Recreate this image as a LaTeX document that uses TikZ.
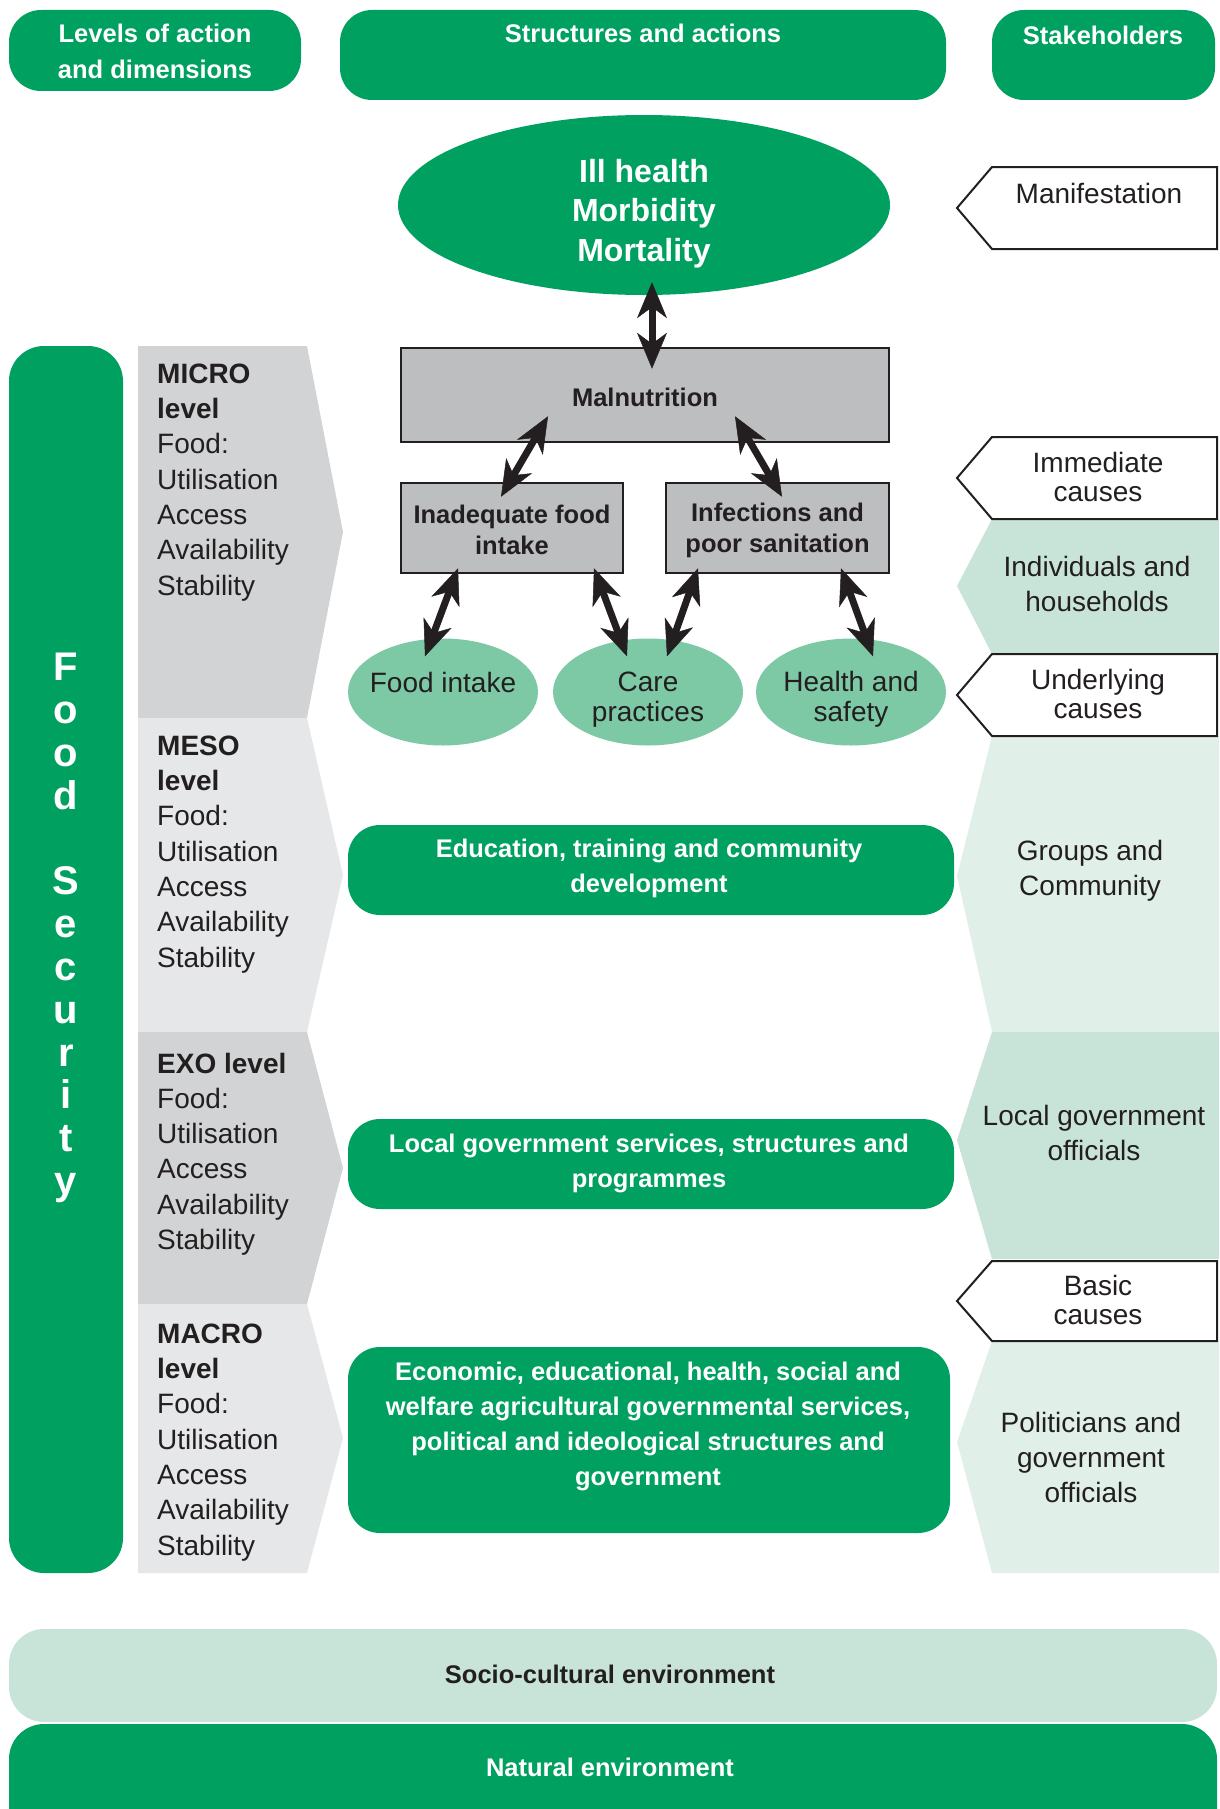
\documentclass[tikz,border=0pt]{standalone}
\usepackage{fontspec}
\setmainfont{Liberation Sans}
\usetikzlibrary{arrows.meta,calc,shapes.geometric}
\definecolor{fsgreen}{HTML}{00A160}
\definecolor{ellgreen}{HTML}{7DC8A5}
\definecolor{midgreen}{HTML}{C8E4D8}
\definecolor{palegreen}{HTML}{E0F0E9}
\definecolor{boxgrey}{HTML}{BCBEC0}
\definecolor{paneldark}{HTML}{D1D3D4}
\definecolor{panellight}{HTML}{E6E7E8}
\definecolor{ink}{HTML}{231F20}
\tikzset{
  hdrtxt/.style={font=\fontsize{25.5}{36}\selectfont\bfseries, text=white, align=center, inner sep=0pt},
  boldtxt/.style={font=\fontsize{25.5}{31}\selectfont\bfseries, text=ink, align=center, inner sep=0pt},
  wboldtxt/.style={font=\fontsize{25.5}{35}\selectfont\bfseries, text=white, align=center, inner sep=0pt},
  regtxt/.style={font=\fontsize{28}{30}\selectfont, text=ink, align=center, inner sep=0pt},
  stktxt/.style={font=\fontsize{28}{35}\selectfont, text=ink, align=center, inner sep=0pt},
  tagtxt/.style={font=\fontsize{28}{29}\selectfont, text=ink, align=center, inner sep=0pt},
  paneltxt/.style={font=\fontsize{28}{35.3}\selectfont, text=ink, align=left, inner sep=0pt, anchor=north west},
  greenbox/.style={fill=fsgreen, rounded corners=32pt},
  tagbox/.style={fill=white, draw=ink, line width=2pt},
  greybox/.style={rectangle, draw=ink, line width=2.5pt, fill=boxgrey, inner sep=0pt},
  smallell/.style={ellipse, fill=ellgreen, minimum width=190pt, minimum height=107pt, inner sep=0pt},
  dbl/.style={line width=7pt, draw=ink,
    {Stealth[length=36pt,width=30pt,inset=11pt,line width=0.5pt]}-{Stealth[length=36pt,width=30pt,inset=11pt,line width=0.5pt]}},
}
\begin{document}
\begin{tikzpicture}[x=1pt,y=-1pt]
\useasboundingbox (0,0) rectangle (1219,1809);
\clip (0,0) rectangle (1219,1809);

% ---------- headers ----------
\fill[greenbox] (9,10) rectangle (301,91);
\node[hdrtxt] (hleft) at (155,51) {Levels of action\\and dimensions};
\fill[greenbox] (340,10) rectangle (946,100);
\node[hdrtxt] (hmid) at (643,33) {Structures and actions};
\fill[greenbox] (992,10) rectangle (1215,100);
\node[hdrtxt] (hright) at (1103,35) {Stakeholders};

% ---------- food security bar ----------
\fill[fsgreen, rounded corners=35pt] (9,346) rectangle (123,1573);
\node[font=\fontsize{40}{42.8}\selectfont\bfseries, text=white, align=center, inner sep=0pt] (fs) at (66,928)
  {F\\o\\o\\d\\[42.8pt]S\\e\\c\\u\\r\\i\\t\\y};

% ---------- level panels ----------
\fill[paneldark] (138,346) -- (307,346) -- (343,532) -- (307,718) -- (138,718) -- cycle;
\fill[panellight] (138,718) -- (307,718) -- (343,875) -- (307,1032) -- (138,1032) -- cycle;
\fill[paneldark] (138,1032) -- (307,1032) -- (343,1168) -- (307,1304) -- (138,1304) -- cycle;
\fill[panellight] (138,1304) -- (307,1304) -- (343,1438) -- (307,1573) -- (138,1573) -- cycle;
\node[paneltxt] (micro) at (157,363.5) {\textbf{MICRO}\\\textbf{level}\\Food:\\Utilisation\\Access\\Availability\\Stability};
\node[paneltxt] (meso) at (157,735.5) {\textbf{MESO}\\\textbf{level}\\Food:\\Utilisation\\Access\\Availability\\Stability};
\node[paneltxt] (exo) at (157,1052.5) {\textbf{EXO level}\\Food:\\Utilisation\\Access\\Availability\\Stability};
\node[paneltxt] (macro) at (157,1323.5) {\textbf{MACRO}\\\textbf{level}\\Food:\\Utilisation\\Access\\Availability\\Stability};

% ---------- stakeholder regions ----------
\fill[midgreen] (992,519) -- (1219,519) -- (1219,654) -- (992,654) -- (957,586) -- cycle;
\fill[palegreen] (992,736) -- (1219,736) -- (1219,1032) -- (992,1032) -- (957,876) -- cycle;
\fill[midgreen] (992,1032) -- (1219,1032) -- (1219,1259) -- (992,1259) -- (957,1140) -- cycle;
\fill[palegreen] (992,1341) -- (1219,1341) -- (1219,1573) -- (992,1573) -- (957,1442) -- cycle;
\node[stktxt] (indiv) at (1097,584) {Individuals and\\households};
\node[stktxt] (groups) at (1090,871) {Groups and\\Community};
\node[stktxt] (localgov) at (1094,1133) {Local government\\officials};
\node[stktxt] (polit) at (1091,1457) {Politicians and\\government\\officials};

% ---------- cause tags ----------
\draw[tagbox] (992,167) -- (1217,167) -- (1217,249) -- (992,249) -- (957,208) -- cycle;
\node[tagtxt] (manif) at (1099,193) {Manifestation};
\draw[tagbox] (992,437) -- (1217,437) -- (1217,519) -- (992,519) -- (957,478) -- cycle;
\node[tagtxt] (immed) at (1098,477) {Immediate\\causes};
\draw[tagbox] (992,654) -- (1217,654) -- (1217,736) -- (992,736) -- (957,695) -- cycle;
\node[tagtxt] (under) at (1098,694) {Underlying\\causes};
\draw[tagbox] (992,1261) -- (1217,1261) -- (1217,1341) -- (992,1341) -- (957,1301) -- cycle;
\node[tagtxt] (basic) at (1098,1300) {Basic\\causes};

% ---------- central causal diagram ----------
\node[ellipse, fill=fsgreen, minimum width=492pt, minimum height=180pt, inner sep=0pt] (ill) at (644,205) {};
\node[font=\fontsize{32}{39.5}\selectfont\bfseries, text=white, align=center, inner sep=0pt] (illtxt) at (644,213.5)
  {Ill health\\Morbidity\\Mortality};
\node[greybox, minimum width=488pt, minimum height=94pt] (mal) at (645,395) {};
\node[boldtxt] (maltxt) at (645,397) {Malnutrition};
\node[greybox, minimum width=222pt, minimum height=90pt] (inad) at (512,528) {};
\node[boldtxt] (inadtxt) at (512,530) {Inadequate food\\intake};
\node[greybox, minimum width=223pt, minimum height=90pt] (inf) at (777.5,528) {};
\node[boldtxt] (inftxt) at (777.5,530) {Infections and\\poor sanitation};
\node[smallell] (food) at (443,692) {};
\node[regtxt] (foodtxt) at (443,682) {Food intake};
\node[smallell] (care) at (648,692) {};
\node[regtxt] (caretxt) at (648,700) {Care\\practices};
\node[smallell] (hs) at (851,692) {};
\node[regtxt] (hstxt) at (851,699) {Health and\\safety};

\draw[dbl] ($(ill.south)+(8,-13)$) -- ($(mal.north)+(7,22)$);
\draw[dbl] ($(mal.south)+(-97,-27)$) -- ($(inad.north)+(-11,15)$);
\draw[dbl] ($(mal.south)+(90,-27)$) -- ($(inf.north)+(4.5,15)$);
\draw[dbl] ($(inad.south)+(-54,-6)$) -- ($(food.north)+(-18,18)$);
\draw[dbl] ($(inad.south)+(82,-6)$) -- ($(care.north)+(-21,18)$);
\draw[dbl] ($(inf.south)+(-79.5,-6)$) -- ($(care.north)+(19,18)$);
\draw[dbl] ($(inf.south)+(63.5,-6)$) -- ($(hs.north)+(22,18)$);

% ---------- structures ----------
\fill[greenbox] (348,825) rectangle (954,915);
\node[wboldtxt] (edu) at (649,868.5) {Education, training and community\\development};
\fill[greenbox] (348,1119) rectangle (954,1209);
\node[wboldtxt] (lgs) at (649,1163.5) {Local government services, structures and\\programmes};
\fill[greenbox] (348,1347) rectangle (950,1533);
\node[wboldtxt] (econ) at (648,1426.5) {Economic, educational, health, social and\\welfare agricultural governmental services,\\political and ideological structures and\\government};

% ---------- environments ----------
\fill[midgreen, rounded corners=35pt] (9,1629) rectangle (1217,1722);
\node[boldtxt] (socio) at (610,1674) {Socio-cultural environment};
\fill[fsgreen, rounded corners=35pt] (9,1724) rectangle (1217,1880);
\node[hdrtxt] (natural) at (610,1767) {Natural environment};
\end{tikzpicture}
\end{document}
